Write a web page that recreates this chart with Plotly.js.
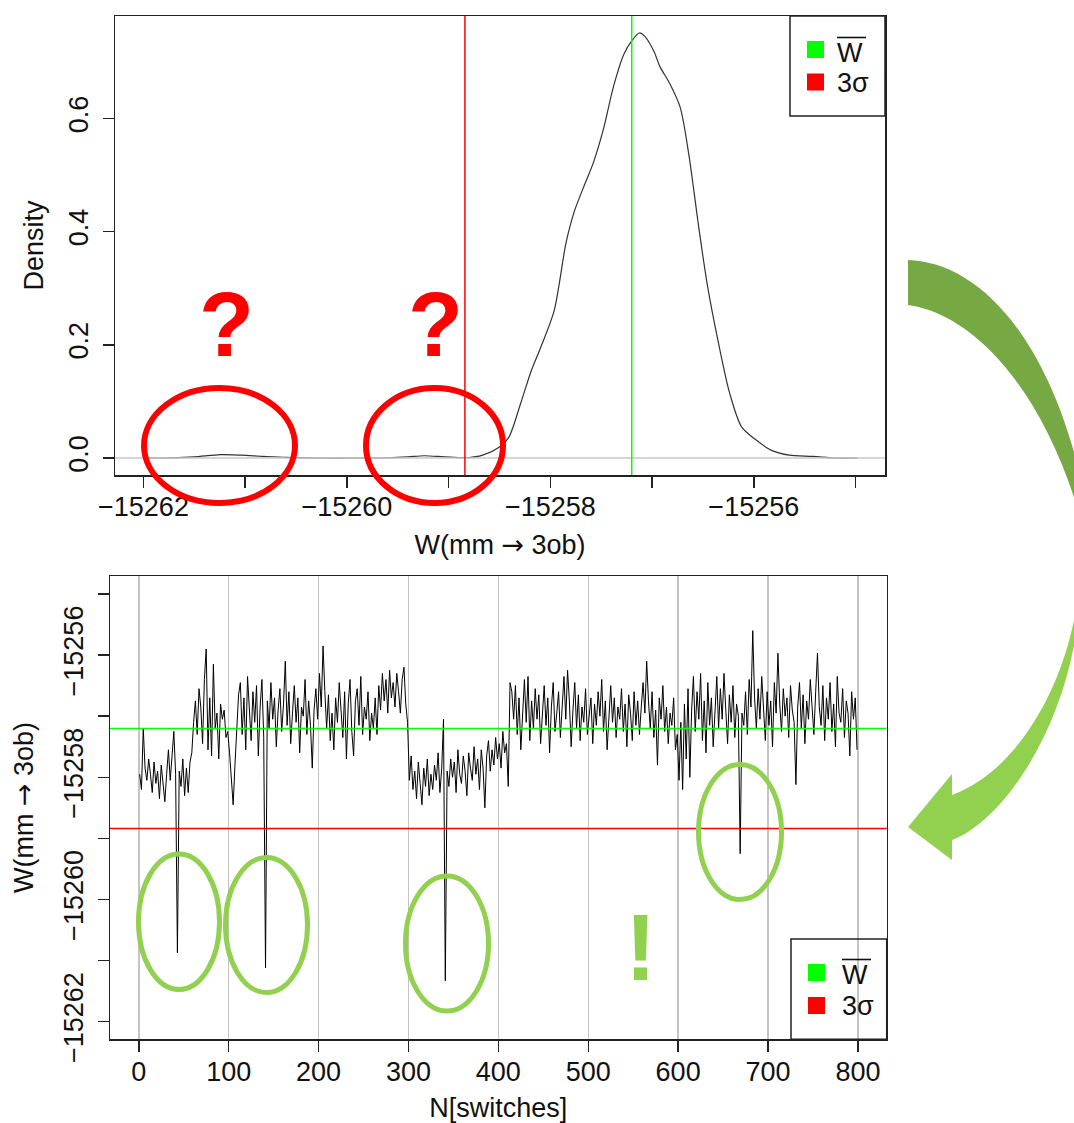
<!DOCTYPE html>
<html>
<head>
<meta charset="utf-8">
<script src="https://cdn.plot.ly/plotly-3.0.1.min.js"></script>
<style>html,body{margin:0;padding:0;background:#fff;}#chart{width:1074px;height:1123px;}</style>
</head>
<body>
<div id="chart"></div>
<script>
// ---------------- DATA ----------------
// Density of W (top panel)
const densityW = [-15262.0,-15261.715,-15261.5,-15261.239,-15261.036,-15260.832,-15260.595,-15260.3,-15259.9,-15259.581,-15259.4,-15259.24,-15259.04,-15258.83,-15258.665,-15258.496,-15258.41,-15258.293,-15258.19,-15258.096,-15257.963,-15257.846,-15257.762,-15257.661,-15257.577,-15257.477,-15257.377,-15257.276,-15257.2,-15257.125,-15257.075,-15256.98,-15256.924,-15256.824,-15256.724,-15256.64,-15256.539,-15256.455,-15256.355,-15256.238,-15256.12,-15255.986,-15255.82,-15255.652,-15255.417,-15255.2,-15254.98];
const densityVal = [0,0.0003,0.002,0.006,0.005,0.003,0.001,0,0,0.0005,0.002,0.004,0.002,0.0005,0.005,0.020,0.036,0.096,0.153,0.195,0.260,0.380,0.437,0.484,0.522,0.582,0.658,0.714,0.737,0.751,0.746,0.718,0.692,0.661,0.620,0.538,0.405,0.304,0.210,0.115,0.055,0.033,0.013,0.005,0.003,0,0];

// Reference levels
const meanW = -15257.20;
const threeSigmaW = -15258.84;

// Time series W vs N[switches], sampled every 2 switches, in segments starting at segStartN
const segStartN = [1, 61, 101, 113, 301, 411];
const wSeg1 = [-15257.95,-15258.20,-15257.20,-15257.85,-15258.05,-15257.70,-15257.95,-15258.25,-15257.75,-15258.10,-15257.90,-15258.35,-15257.80,-15258.15,-15258.40,-15257.95,-15257.55,-15258.05,-15257.65,-15257.25,-15257.95,-15260.87,-15257.90,-15258.15,-15257.70,-15258.30,-15257.85,-15258.25,-15257.75,-15257.60];
const wSeg2 = [-15257.10,-15256.75,-15257.30,-15256.55,-15256.85,-15257.45,-15256.40,-15255.90,-15257.55,-15256.70,-15257.65,-15256.15,-15257.20,-15256.95,-15257.70,-15256.80,-15257.05,-15256.90,-15257.35,-15257.25];
const wSeg3 = [-15257.60,-15258.05,-15258.45,-15257.80,-15257.15,-15256.65];
const wSeg4 = [-15256.45,-15257.30,-15256.70,-15257.55,-15256.35,-15256.95,-15257.40,-15256.60,-15257.10,-15256.50,-15257.65,-15256.85,-15256.40,-15257.35,-15261.12,-15256.75,-15257.20,-15256.45,-15257.05,-15256.70,-15257.50,-15256.90,-15256.55,-15257.25,-15256.80,-15256.10,-15257.15,-15256.60,-15257.45,-15256.95,-15256.50,-15257.10,-15256.70,-15257.60,-15256.85,-15257.00,-15256.40,-15257.30,-15256.75,-15257.15,-15257.85,-15256.90,-15256.55,-15257.05,-15256.30,-15256.85,-15255.85,-15256.60,-15257.20,-15256.65,-15257.40,-15256.95,-15257.55,-15256.70,-15257.10,-15256.45,-15256.90,-15257.35,-15256.60,-15257.70,-15256.80,-15256.40,-15257.25,-15257.65,-15256.75,-15256.55,-15257.15,-15256.35,-15257.30,-15256.85,-15257.05,-15256.60,-15257.40,-15256.95,-15257.20,-15256.70,-15257.30,-15256.50,-15256.90,-15256.30,-15256.75,-15256.40,-15256.95,-15256.25,-15256.70,-15256.45,-15256.85,-15256.30,-15256.60,-15256.95,-15256.40,-15256.20,-15256.80,-15257.10];
const wSeg5 = [-15258.05,-15257.65,-15258.20,-15257.90,-15258.35,-15257.75,-15258.10,-15258.45,-15257.85,-15258.15,-15257.70,-15258.30,-15257.95,-15258.20,-15257.80,-15258.05,-15257.60,-15258.25,-15257.85,-15257.05,-15261.33,-15257.90,-15258.15,-15257.70,-15258.00,-15257.75,-15258.25,-15257.55,-15257.95,-15258.10,-15257.65,-15257.90,-15258.30,-15257.60,-15257.85,-15258.05,-15257.50,-15257.95,-15257.70,-15258.20,-15257.55,-15257.85,-15258.50,-15257.65,-15257.40,-15257.90,-15257.55,-15257.80,-15257.35,-15257.70,-15257.45,-15257.85,-15257.25,-15257.60,-15257.45];
const wSeg6 = [-15258.15,-15256.45,-15256.60,-15257.05,-15256.50,-15257.30,-15256.70,-15257.55,-15256.85,-15256.40,-15257.10,-15256.35,-15257.40,-15256.75,-15257.20,-15256.55,-15257.05,-15256.65,-15257.45,-15256.90,-15256.50,-15257.15,-15256.70,-15257.60,-15256.85,-15256.45,-15257.25,-15256.95,-15256.60,-15257.35,-15256.80,-15256.35,-15257.05,-15256.25,-15256.75,-15257.50,-15256.90,-15256.45,-15257.20,-15256.65,-15257.40,-15256.85,-15257.10,-15256.55,-15257.30,-15256.95,-15256.70,-15257.45,-15256.80,-15257.15,-15256.60,-15257.00,-15256.40,-15257.25,-15256.75,-15257.55,-15256.90,-15256.50,-15257.10,-15256.70,-15257.35,-15256.85,-15257.05,-15256.55,-15257.25,-15256.80,-15257.50,-15256.65,-15256.95,-15257.40,-15256.60,-15257.15,-15256.75,-15257.30,-15256.85,-15256.45,-15256.95,-15256.10,-15256.75,-15257.20,-15256.60,-15257.35,-15256.90,-15257.80,-15256.70,-15257.05,-15256.50,-15257.25,-15256.85,-15257.45,-15256.95,-15257.15,-15256.70,-15257.55,-15257.30,-15258.05,-15257.10,-15258.20,-15256.80,-15257.70,-15256.55,-15258.00,-15256.90,-15256.35,-15257.25,-15256.60,-15257.05,-15256.30,-15257.40,-15256.75,-15257.60,-15256.45,-15257.15,-15256.70,-15257.50,-15256.85,-15256.35,-15257.20,-15256.55,-15257.05,-15256.30,-15256.90,-15257.45,-15256.65,-15257.10,-15256.50,-15257.35,-15256.80,-15257.00,-15259.25,-15256.95,-15257.15,-15256.60,-15257.30,-15256.40,-15256.85,-15255.60,-15256.70,-15257.20,-15256.55,-15257.05,-15256.35,-15256.90,-15257.40,-15256.60,-15257.15,-15256.75,-15257.50,-15256.45,-15256.95,-15255.97,-15256.80,-15257.25,-15256.55,-15257.00,-15256.70,-15257.35,-15256.50,-15256.90,-15257.10,-15258.12,-15256.85,-15256.45,-15257.20,-15256.65,-15257.45,-15256.75,-15257.05,-15256.40,-15256.95,-15257.30,-15256.60,-15255.97,-15256.85,-15257.15,-15256.50,-15257.40,-15256.70,-15257.05,-15256.45,-15257.25,-15256.80,-15257.50,-15256.35,-15256.95,-15257.10,-15256.55,-15257.35,-15256.75,-15256.95,-15257.65,-15256.60,-15257.05,-15256.70,-15257.55];

// Tick labels
const densityXTicks = [-15262,-15261,-15260,-15259,-15258,-15257,-15256,-15255];
const densityXLabels = ['\u221215262','','\u221215260','','\u221215258','','\u221215256',''];
const densityYTicks = [0,0.2,0.4,0.6];
const densityYLabels = ['0.0','0.2','0.4','0.6'];
const switchTicks = [0,100,200,300,400,500,600,700,800];
const switchLabels = ['0','100','200','300','400','500','600','700','800'];
const wTicks = [-15262,-15261,-15260,-15259,-15258,-15257,-15256,-15255];
const wLabels = ['\u221215262','','\u221215260','','\u221215258','','\u221215256',''];
const legendLabels = ['W','3\u03c3'];   // W is drawn with an overline (mean)
const axisTitleW = 'W(mm <span style="font-family:DejaVu Sans">\u2192</span> 3ob)';

// ---------------- BUILD ----------------
const segs = [wSeg1,wSeg2,wSeg3,wSeg4,wSeg5,wSeg6];
const seriesN = [], seriesW = [];
segs.forEach((s, k) => s.forEach((v, i) => { seriesN.push(segStartN[k] + 2*i); seriesW.push(v); }));

const FIG_W = 1074, FIG_H = 1123;
const M = {l:110, r:187, t:16, b:84};
const PW = FIG_W - M.l - M.r, PH = FIG_H - M.t - M.b;
const px = x => (x - M.l) / PW;
const py = y => 1 - (y - M.t) / PH;
const FONT = 'Liberation Sans, Arial, Helvetica, sans-serif';
const FS = 27;
const BLACK = '#222';

function pathFrom(cmds) {
  return cmds.map(c => c[0] + (c[0]==='Z' ? '' : ' ' + c.slice(1).reduce((a, v, i) => {
    if (i % 2 === 0) a.push(px(v).toFixed(5)); else a[a.length-1] += ',' + py(v).toFixed(5);
    return a;
  }, []).join(' '))).join(' ');
}

const traces = [
  {x: densityW, y: densityVal, type:'scatter', mode:'lines', xaxis:'x', yaxis:'y',
   line:{color:'#333', width:1.2, shape:'spline', smoothing:0.8}, showlegend:false, hoverinfo:'skip'},
  {x: seriesN, y: seriesW, type:'scatter', mode:'lines', xaxis:'x2', yaxis:'y2',
   line:{color:'#000', width:1}, showlegend:false, hoverinfo:'skip'}
];

const axisCommon = {
  showline:true, mirror:true, linecolor:BLACK, linewidth:1.5,
  ticks:'outside', ticklen:11, tickwidth:1.5, tickcolor:BLACK,
  tickfont:{family:FONT, size:FS, color:'#111'}, zeroline:false, tickmode:'array'
};

const shapes = [];
shapes.push({type:'line', xref:'x domain', yref:'y', x0:0, x1:1, y0:0, y1:0, line:{color:'#c8c8c8', width:1.5}, layer:'above'});
shapes.push({type:'line', xref:'x', yref:'y domain', x0:threeSigmaW, x1:threeSigmaW, y0:0, y1:1, line:{color:'#ff0000', width:1.5}, layer:'above'});
shapes.push({type:'line', xref:'x', yref:'y domain', x0:meanW, x1:meanW, y0:0, y1:1, line:{color:'#00ff00', width:1.5}, layer:'above'});
shapes.push({type:'line', xref:'x2 domain', yref:'y2', x0:0, x1:1, y0:meanW, y1:meanW, line:{color:'#00ff00', width:1.5}, layer:'above'});
shapes.push({type:'line', xref:'x2 domain', yref:'y2', x0:0, x1:1, y0:threeSigmaW, y1:threeSigmaW, line:{color:'#ff0000', width:1.5}, layer:'above'});

function legendBox(x0, y0, x1, y1, ky1, ky2, kx, ox0, ox1, oy) {
  shapes.push({type:'rect', xref:'paper', yref:'paper', x0:px(x0), x1:px(x1), y0:py(y1), y1:py(y0), line:{color:BLACK, width:1.5}, fillcolor:'rgba(0,0,0,0)', layer:'above'});
  shapes.push({type:'rect', xref:'paper', yref:'paper', x0:px(kx), x1:px(kx+17), y0:py(ky1+17), y1:py(ky1), line:{width:0}, fillcolor:'#00ff00', layer:'above'});
  shapes.push({type:'rect', xref:'paper', yref:'paper', x0:px(kx), x1:px(kx+17), y0:py(ky2+17), y1:py(ky2), line:{width:0}, fillcolor:'#ff0000', layer:'above'});
  shapes.push({type:'line', xref:'paper', yref:'paper', x0:px(ox0), x1:px(ox1), y0:py(oy), y1:py(oy), line:{color:'#111', width:1.6}, layer:'above'});
}
legendBox(790, 16, 885, 116, 41, 73.5, 807, 837, 866, 37.5);
legendBox(791, 939, 886.7, 1039.3, 964, 997, 808, 842, 871, 959.5);

const redE = [[144,388,295,503],[366,388,503,503]];
redE.forEach(e => shapes.push({type:'circle', xref:'paper', yref:'paper', x0:px(e[0]), x1:px(e[2]), y0:py(e[3]), y1:py(e[1]), line:{color:'#ff0000', width:6}, layer:'above'}));
const greenE = [[138.5,854,219.5,989.5],[225.5,857.5,307.5,992.5],[405.5,876,488.5,1011],[698.5,764.5,781.5,899.5]];
greenE.forEach(e => shapes.push({type:'circle', xref:'paper', yref:'paper', x0:px(e[0]), x1:px(e[2]), y0:py(e[3]), y1:py(e[1]), line:{color:'#92d050', width:5}, layer:'above'}));

shapes.push({type:'path', xref:'paper', yref:'paper', layer:'above', line:{width:0}, fillcolor:'#76a843',
  path: pathFrom([['M',908,260],['C',975,262,1045,330,1080,475],['L',1095,475],['L',1095,515],['L',1078,510],['C',1045,400,980,315,908,305],['Z']])});
shapes.push({type:'path', xref:'paper', yref:'paper', layer:'above', line:{width:0}, fillcolor:'#92d050',
  path: pathFrom([['M',1078,595],['C',1068,680,1020,770,952,795],['L',952,774],['L',908,827],['L',952,860],['L',952,840],['C',1000,822,1064,735,1078,620],['L',1095,620],['L',1095,595],['Z']])});

const annotations = [];
function txt(text, x, y, opts) {
  annotations.push(Object.assign({text, xref:'paper', yref:'paper', x:px(x), y:py(y), showarrow:false,
    xanchor:'left', yanchor:'middle', font:{family:FONT, size:FS, color:'#111'}}, opts || {}));
}
txt(legendLabels[0], 835, 53);
txt(legendLabels[1], 835, 83);
txt(legendLabels[0], 840, 975);
txt(legendLabels[1], 840, 1006);
const bigFont = 'Liberation Sans Narrow, Arial Narrow, Liberation Sans, Arial, sans-serif';
txt('?', 226, 325, {xanchor:'center', font:{family:bigFont, size:90, color:'#ff0000', weight:'bold'}});
txt('?', 435, 325, {xanchor:'center', font:{family:bigFont, size:90, color:'#ff0000', weight:'bold'}});
txt('!', 640, 947, {xanchor:'center', font:{family:bigFont, size:94, color:'#92d050', weight:'bold'}});

const layout = {
  width:FIG_W, height:FIG_H, margin:M, paper_bgcolor:'#fff', plot_bgcolor:'#fff', showlegend:false,
  font:{family:FONT, size:FS, color:'#111'},
  xaxis: Object.assign({}, axisCommon, {domain:[px(115), px(885)], anchor:'y', range:[-15262.28,-15254.71],
    tickvals:densityXTicks, ticktext:densityXLabels, showgrid:false, ticklabelstandoff:-4,
    title:{text:axisTitleW, font:{family:FONT, size:FS, color:'#111'}, standoff:14}}),
  yaxis: Object.assign({}, axisCommon, {domain:[py(475), py(16)], anchor:'x', range:[-0.030,0.781],
    tickvals:densityYTicks, ticktext:densityYLabels, tickangle:-90, showgrid:false, ticklabelstandoff:4,
    title:{text:'Density', font:{family:FONT, size:FS, color:'#111'}, standoff:12}}),
  xaxis2: Object.assign({}, axisCommon, {domain:[px(110), px(886.7)], anchor:'y2', range:[-32,832],
    tickvals:switchTicks, ticktext:switchLabels, showgrid:true, gridcolor:'#c4c4c4', gridwidth:1.5, ticklabelstandoff:-3,
    title:{text:'N[switches]', font:{family:FONT, size:FS, color:'#111'}, standoff:22}}),
  yaxis2: Object.assign({}, axisCommon, {domain:[py(1039.3), py(576)], anchor:'x2', range:[-15262.283,-15254.706],
    tickvals:wTicks, ticktext:wLabels, tickangle:-90, showgrid:false, ticklabelstandoff:4,
    title:{text:axisTitleW, font:{family:FONT, size:FS, color:'#111'}, standoff:17}}),
  shapes, annotations
};

Plotly.newPlot('chart', traces, layout, {staticPlot:true, displayModeBar:false});
</script>
</body>
</html>
